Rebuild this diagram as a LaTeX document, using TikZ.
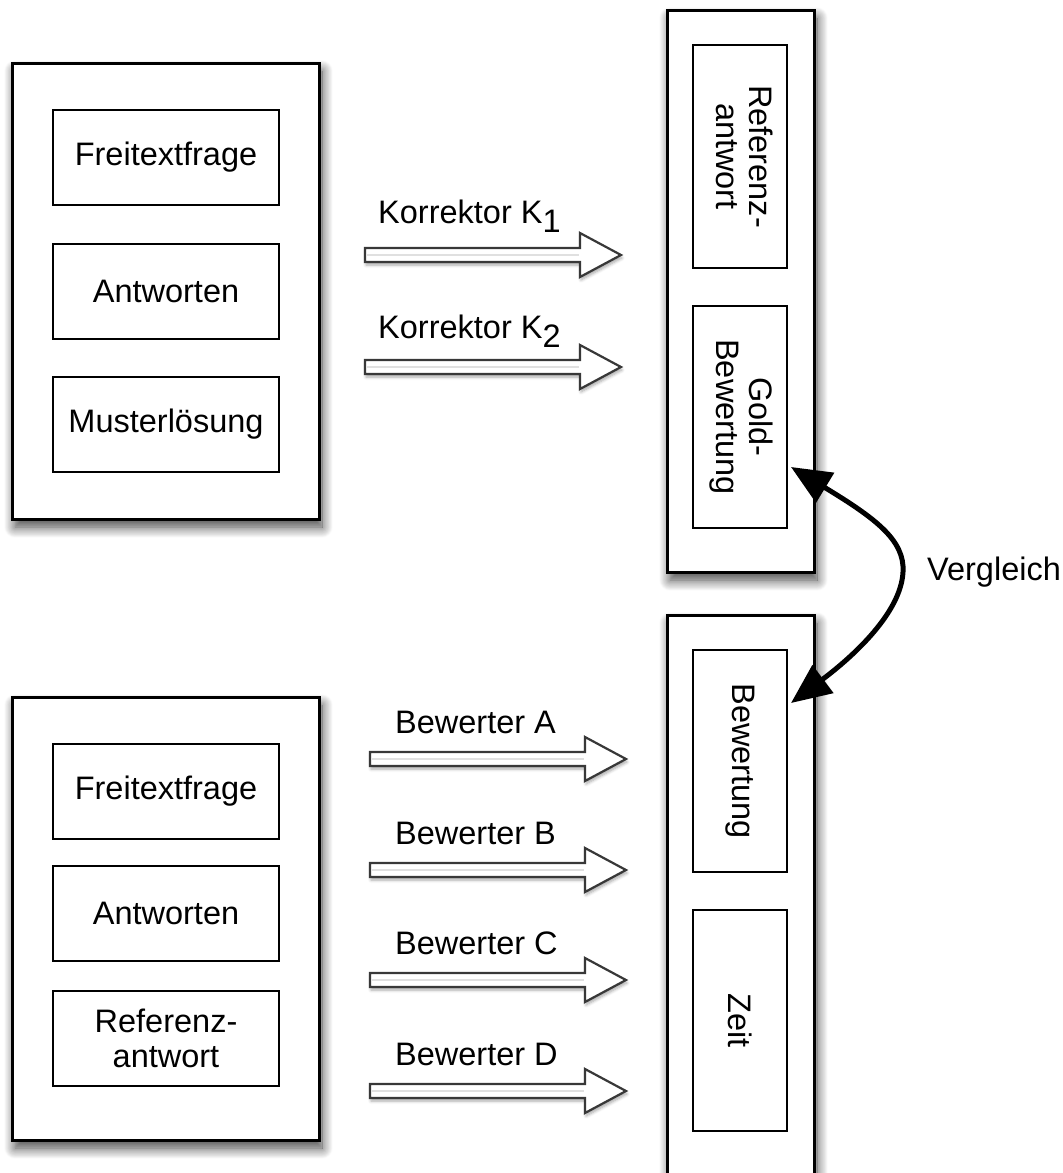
\documentclass[tikz,border=0pt]{standalone}
\usepackage{fontspec}
\setmainfont{Liberation Sans}
\usetikzlibrary{shadows.blur,arrows.meta}
\newcommand\lbl{\fontsize{32.5}{35}\selectfont}
\tikzset{
  outerbox/.style={draw, line width=3pt, fill=white, inner sep=0pt,
    blur shadow={shadow xshift=3pt, shadow yshift=-8pt, shadow blur steps=14,
      shadow blur radius=11pt, shadow opacity=75}},
  innerbox/.style={draw, line width=2pt, fill=white, inner sep=0pt, align=center, font=\lbl},
  lab/.style={font=\lbl, inner sep=0pt},
  hollowarrow/.pic={
    \draw[line width=2.2pt, draw=black!78, fill=white,
      blur shadow={shadow xshift=1pt, shadow yshift=-3pt, shadow blur steps=5,
        shadow blur radius=3pt, shadow opacity=35}]
      (0,-7) -- (215,-7) -- (215,-22) -- (256,0) -- (215,22) -- (215,7) -- (0,7) -- cycle;
    \draw[line width=1.5pt, black!12] (2,0) -- (214,0);
  },
  cmp/.style={line width=5pt, {Triangle[length=40pt,width=34pt]}-{Triangle[length=40pt,width=34pt]}}
}
\begin{document}
\begin{tikzpicture}[x=1pt,y=-1pt]
\useasboundingbox (0,0) rectangle (1063,1173);
\clip (0,0) rectangle (1063,1173);

% top left
\node[outerbox, minimum width=307pt, minimum height=456pt] (tl) at (165.5,291) {};
\node[innerbox, minimum width=226pt, minimum height=95pt] (tl1) at (166,157.5) {Freitextfrage};
\node[innerbox, minimum width=226pt, minimum height=95pt] (tl2) at (166,291) {Antworten};
\node[innerbox, minimum width=226pt, minimum height=95pt] (tl3) at (166,424) {Musterlösung};

% bottom left
\node[outerbox, minimum width=307pt, minimum height=443pt] (bl) at (165.5,918.5) {};
\node[innerbox, minimum width=226pt, minimum height=95pt] (bl1) at (166,791) {Freitextfrage};
\node[innerbox, minimum width=226pt, minimum height=95pt] (bl2) at (166,913) {Antworten};
\node[innerbox, minimum width=226pt, minimum height=95pt] (bl3) at (166,1038) {Referenz-\\antwort};

% top right
\node[outerbox, minimum width=147pt, minimum height=562pt] (tr) at (740.5,291) {};
\node[innerbox, minimum width=94pt, minimum height=223pt] (ref) at (740,156.5)
  {\rotatebox{-90}{\begin{tabular}{@{}c@{}}Referenz-\\[-2pt]antwort\end{tabular}}};
\node[innerbox, minimum width=94pt, minimum height=222pt] (gold) at (740,417)
  {\rotatebox{-90}{\begin{tabular}{@{}c@{}}Gold-\\[-2pt]Bewertung\end{tabular}}};

% bottom right
\node[outerbox, minimum width=147pt, minimum height=580pt] (br) at (740.5,905) {};
\node[innerbox, minimum width=94pt, minimum height=222pt] (bew) at (740,761)
  {\rotatebox{-90}{Bewertung}};
\node[innerbox, minimum width=94pt, minimum height=221pt] (zeit) at (740,1020.5)
  {\rotatebox{-90}{Zeit}};

% hollow arrows
\pic at (365,255) {hollowarrow};
\pic at (365,367) {hollowarrow};
\pic at (370,759) {hollowarrow};
\pic at (370,870) {hollowarrow};
\pic at (370,980) {hollowarrow};
\pic at (370,1091) {hollowarrow};

\node[lab, anchor=base west] (k1) at (378,223) {Korrektor K\raisebox{-9pt}{1}};
\node[lab, anchor=base west] (k2) at (378,338) {Korrektor K\raisebox{-9pt}{2}};
\node[lab, anchor=base west] (ba) at (395,733) {Bewerter A};
\node[lab, anchor=base west] (bb) at (395,844) {Bewerter B};
\node[lab, anchor=base west] (bc) at (395,954) {Bewerter C};
\node[lab, anchor=base west] (bd) at (395,1065) {Bewerter D};

% comparison
\coordinate (v1) at ([xshift=3pt,yshift=-50pt]gold.east);
\coordinate (v2) at ([xshift=3pt,yshift=58pt]bew.east);
\draw[cmp] (v1) .. controls (875,518) and (905,540) .. (903,572)
  .. controls (901,612) and (855,655) .. (v2);
\node[lab, anchor=base west] (vg) at (927,580) {Vergleich};
\end{tikzpicture}
\end{document}
